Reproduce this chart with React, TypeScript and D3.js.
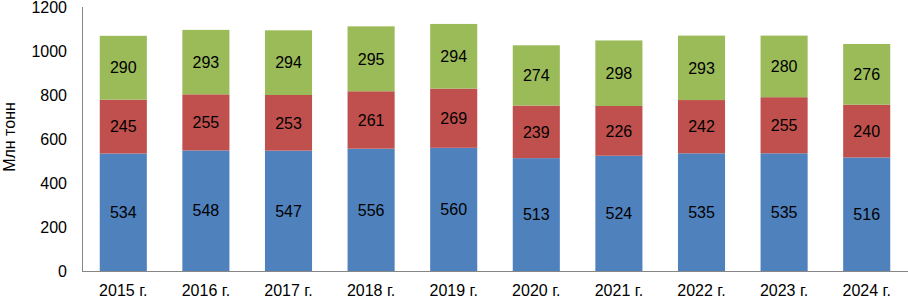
import React from "react";
import * as d3 from "d3";

const years = ["2015 г.", "2016 г.", "2017 г.", "2018 г.", "2019 г.", "2020 г.", "2021 г.", "2022 г.", "2023 г.", "2024 г."];
const seriesBlue = [534, 548, 547, 556, 560, 513, 524, 535, 535, 516];
const seriesRed = [245, 255, 253, 261, 269, 239, 226, 242, 255, 240];
const seriesGreen = [290, 293, 294, 295, 294, 274, 298, 293, 280, 276];
const yTicks = [0, 200, 400, 600, 800, 1000, 1200];
const colors = ["#4F81BD", "#C0504D", "#9BBB59"];

const W = 908;
const H = 297;
const left = 82;
const right = 908;
const top = 7;
const bottom = 271;

export default function App() {
  const x = d3.scaleBand<string>().domain(years).range([left, right]).paddingInner(0.43).paddingOuter(0.215);
  const y = d3.scaleLinear().domain([0, 1200]).range([bottom, top]);
  const rows = years.map((yr, i) => ({ yr, a: seriesBlue[i], b: seriesRed[i], c: seriesGreen[i] }));
  const stack = d3.stack<any>().keys(["a", "b", "c"])(rows);
  const font = "'Liberation Sans', Arial, sans-serif";

  return (
    <svg width={W} height={H} style={{ position: "absolute", left: 0, top: 0, background: "#fff" }} fontFamily={font}>
      {stack.map((layer, li) =>
        layer.map((d, i) => (
          <rect
            key={`${li}-${i}`}
            x={x(years[i])}
            y={y(d[1])}
            width={x.bandwidth()}
            height={y(d[0]) - y(d[1])}
            fill={colors[li]}
          />
        ))
      )}
      {stack.map((layer, li) =>
        layer.map((d, i) => (
          <text
            key={`t${li}-${i}`}
            x={(x(years[i]) as number) + x.bandwidth() / 2}
            y={y((d[0] + d[1]) / 2)}
            dy="0.36em"
            textAnchor="middle"
            fontSize={16}
            fill="#000"
          >
            {d[1] - d[0]}
          </text>
        ))
      )}
      <line x1={left + 0.5} x2={left + 0.5} y1={top} y2={bottom} stroke="#868686" strokeWidth={1} />
      <line x1={left} x2={right} y1={bottom + 0.5} y2={bottom + 0.5} stroke="#868686" strokeWidth={1} />
      {yTicks.map((t) => (
        <text key={t} x={67} y={y(t)} dy="0.36em" textAnchor="end" fontSize={16} fill="#000">
          {t}
        </text>
      ))}
      {years.map((yr) => (
        <text key={yr} x={(x(yr) as number) + x.bandwidth() / 2} y={296} textAnchor="middle" fontSize={16} fill="#000">
          {yr}
        </text>
      ))}
      <text transform={`translate(15,137) rotate(-90)`} textAnchor="middle" fontSize={16} fill="#000">
        Млн тонн
      </text>
    </svg>
  );
}
